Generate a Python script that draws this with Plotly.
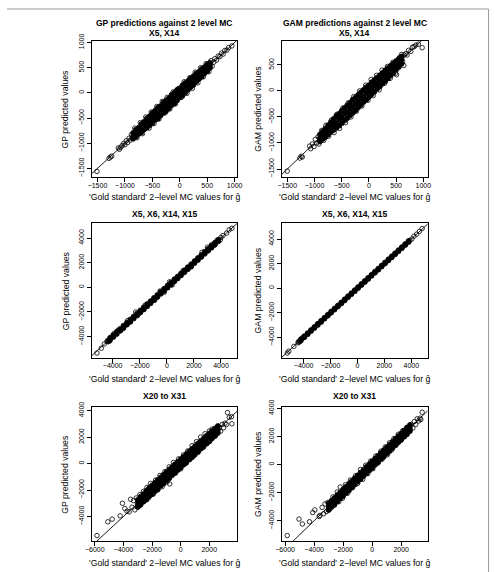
import plotly.graph_objects as go

# ---------------- data ----------------
# Panel 1: GP, X5, X14
p1_core_x = [-850,-800,-750,-700,-650,-600,-550,-500,-450,-400,-350,-300,-250,-200,-150,-100,-50,0,50,100,150,200,250,300,350,400,450,500,550,
             -850,-800,-750,-700,-650,-600,-550,-500,-450,-400,-350,-300,-250,-200,-150,-100,-50,0,50,100,150,200,250,300,350,400,450,500,550,
             -850,-800,-750,-700,-650,-600,-550,-500,-450,-400,-350,-300,-250,-200,-150,-100,-50,0,50,100,150,200,250,300,350,400,450,500,550]
p1_core_y = [-795,-730,-690,-620,-575,-510,-465,-400,-355,-295,-260,-190,-150,-105,-40,0,55,90,150,195,235,290,330,385,420,475,510,565,600,
             -860,-795,-765,-690,-655,-585,-550,-520,-440,-410,-330,-305,-245,-215,-140,-100,-60,15,45,105,130,210,250,290,365,395,455,490,550,
             -910,-870,-815,-785,-725,-690,-645,-600,-540,-510,-450,-395,-360,-305,-245,-210,-150,-90,-55,5,60,115,160,220,275,320,385,430,495]
p1_out_x = [-1509,-1290,-1265,-1240,-1120,-1100,-1075,-1050,-1020,-1000,-975,-950,-925,-905,-880,-870,
            -820,-780,-720,-680,-620,-560,-520,-470,-420,-380,-320,-270,-230,-180,-120,-80,-30,30,80,130,180,230,280,330,380,430,480,530,570,590,620,640,670,700,730,760,790,820,860,890,949]
p1_out_y = [-1560,-1300,-1275,-1255,-1095,-1120,-1080,-1045,-1000,-1030,-950,-985,-900,-940,-830,-900,
            -700,-890,-590,-810,-480,-700,-380,-610,-270,-520,-170,-400,-90,-320,20,-220,80,-90,220,-10,300,90,410,200,500,320,580,420,640,530,610,680,650,730,720,790,770,840,850,900,932]

# Panel 2: GAM, X5, X14
p2_core_x = [-900,-850,-800,-750,-700,-650,-600,-550,-500,-450,-400,-350,-300,-250,-200,-150,-100,-50,0,50,100,150,200,250,300,350,400,450,500,550,600,
             -900,-850,-800,-750,-700,-650,-600,-550,-500,-450,-400,-350,-300,-250,-200,-150,-100,-50,0,50,100,150,200,250,300,350,400,450,500,550,600,
             -900,-850,-800,-750,-700,-650,-600,-550,-500,-450,-400,-350,-300,-250,-200,-150,-100,-50,0,50,100,150,200,250,300,350,400,450,500,550,600]
p2_core_y = [-835,-780,-720,-660,-600,-540,-480,-440,-380,-330,-280,-230,-170,-130,-80,-30,20,70,110,165,210,255,300,345,395,440,485,525,575,615,660,
             -905,-845,-810,-740,-705,-645,-610,-540,-505,-440,-410,-345,-305,-245,-210,-140,-110,-40,5,45,110,140,210,245,310,340,410,445,505,545,605,
             -970,-925,-885,-840,-790,-750,-710,-670,-620,-570,-525,-470,-425,-375,-320,-270,-215,-170,-115,-65,-15,40,85,140,190,240,295,350,410,460,520]
p2_out_x = [-1501,-1270,-1245,-1225,-1090,-1070,-1040,-1010,-985,-960,-935,-920,-870,-830,-790,-740,-690,-640,-590,-540,-480,-430,-380,-330,-280,-230,-170,-130,-60,-20,
            40,80,140,190,240,290,340,390,440,490,507,560,600,620,640,650,680,700,730,770,800,830,860,909,978]
p2_out_y = [-1540,-1290,-1255,-1270,-1060,-1110,-1020,-1070,-930,-1000,-880,-1020,-760,-950,-660,-870,-560,-800,-450,-720,-330,-610,-230,-500,-110,-390,0,-290,110,-180,
            220,-90,300,20,400,150,470,240,550,340,311,640,700,560,488,690,720,690,780,760,840,850,880,898,830]

# Panel 3: GP, X5, X6, X14, X15
p3_core_x = [-4200,-3950,-3700,-3450,-3200,-2950,-2700,-2450,-2200,-1950,-1700,-1450,-1200,-950,-700,-450,-200,50,300,550,800,1050,1300,1550,1800,2050,2300,2550,2800,3050,3300,3550,3800,
             -4200,-3950,-3700,-3450,-3200,-2950,-2700,-2450,-2200,-1950,-1700,-1450,-1200,-950,-700,-450,-200,50,300,550,800,1050,1300,1550,1800,2050,2300,2550,2800,3050,3300,3550,3800]
p3_core_y = [-4120,-3870,-3610,-3380,-3110,-2880,-2610,-2370,-2120,-1870,-1620,-1360,-1120,-860,-620,-370,-120,140,380,630,870,1130,1380,1630,1870,2130,2380,2620,2880,3120,3370,3610,3860,
             -4290,-4030,-3790,-3530,-3290,-3030,-2790,-2530,-2290,-2030,-1790,-1530,-1290,-1030,-790,-530,-290,-30,210,470,720,970,1220,1470,1720,1970,2220,2470,2720,2970,3220,3470,3730]
p3_out_x = [-5160,-4840,-4620,-4420,-4380,-4350,-4300,-4250,-4150,-3900,-3600,-3300,-2900,-2700,-2300,-2100,-1600,-900,-500,-200,200,400,600,1200,1800,2600,3000,3300,3500,3700,3950,4000,4150,4411,4600,4806]
p3_out_y = [-5330,-4940,-4600,-4380,-4330,-4420,-4300,-4380,-4050,-3750,-3480,-3400,-2700,-2800,-2000,-2200,-1450,-1050,-300,-400,450,200,700,1350,1650,2850,3250,3450,3400,3800,3850,4050,4200,4400,4660,4795]

# Panel 4: GAM, X5, X6, X14, X15
p4_core_x = [-4200,-3950,-3700,-3450,-3200,-2950,-2700,-2450,-2200,-1950,-1700,-1450,-1200,-950,-700,-450,-200,50,300,550,800,1050,1300,1550,1800,2050,2300,2550,2800,3050,3300,3550,3800,
             -4200,-3950,-3700,-3450,-3200,-2950,-2700,-2450,-2200,-1950,-1700,-1450,-1200,-950,-700,-450,-200,50,300,550,800,1050,1300,1550,1800,2050,2300,2550,2800,3050,3300,3550,3800]
p4_core_y = [-4160,-3910,-3660,-3410,-3155,-2905,-2660,-2410,-2160,-1905,-1655,-1410,-1160,-905,-660,-410,-160,90,345,590,840,1090,1345,1590,1840,2090,2345,2590,2840,3090,3340,3590,3840,
             -4245,-3990,-3745,-3490,-3240,-2995,-2745,-2490,-2240,-1995,-1745,-1490,-1245,-995,-740,-490,-245,5,255,505,755,1005,1255,1505,1755,2005,2255,2505,2755,3005,3255,3505,3755]
p4_out_x = [-5215,-5100,-4725,-4420,-4380,-4330,-4290,-4250,-4100,-3950,3900,4043,4200,4406,4600,4809]
p4_out_y = [-5281,-5130,-4740,-4450,-4350,-4400,-4290,-4330,-4060,-4000,3890,4010,4230,4400,4620,4850]

# Panel 5: GP, X20 to X31
p5_core_x = [-3000,-2800,-2600,-2400,-2200,-2000,-1800,-1600,-1400,-1200,-1000,-800,-600,-400,-200,0,200,400,600,800,1000,1200,1400,1600,1800,2000,2200,2400,2600,
             -3000,-2800,-2600,-2400,-2200,-2000,-1800,-1600,-1400,-1200,-1000,-800,-600,-400,-200,0,200,400,600,800,1000,1200,1400,1600,1800,2000,2200,2400,2600,
             -3000,-2800,-2600,-2400,-2200,-2000,-1800,-1600,-1400,-1200,-1000,-800,-600,-400,-200,0,200,400,600,800,1000,1200,1400,1600,1800,2000,2200,2400,2600]
p5_core_y = [-2750,-2500,-2300,-2050,-1850,-1650,-1450,-1250,-1050,-850,-660,-450,-270,-60,130,330,520,720,910,1110,1300,1500,1690,1880,2080,2270,2460,2650,2830,
             -3050,-2760,-2650,-2330,-2250,-1950,-1850,-1550,-1450,-1150,-1050,-750,-650,-350,-250,50,150,450,550,850,950,1250,1350,1650,1750,2050,2150,2450,2550,
             -3280,-3120,-2880,-2730,-2480,-2320,-2090,-1930,-1680,-1520,-1290,-1120,-880,-720,-490,-320,-90,80,320,480,710,870,1120,1280,1520,1670,1910,2080,2320]
p5_out_x = [-5848,-5090,-4790,-4230,-4070,-3900,-3750,-3600,-3500,-3400,-3300,-3200,-3100,-2950,-2850,-2700,-2600,-2500,-2350,-2250,-2100,-1900,-1750,-1600,-1450,-1300,-1100,-950,-800,-765,
            -500,-350,-150,0,200,350,500,650,800,950,1100,1250,1400,1550,1700,1850,2000,2100,2200,2300,2450,2550,2700,2800,2900,3000,3100,3200,3276,3400,3556,3582]
p5_out_y = [-5440,-4400,-4200,-3950,-3000,-3400,-3600,-3650,-2700,-3300,-2800,-3500,-2600,-3250,-2350,-2900,-2100,-2750,-1800,-2600,-1500,-2300,-1250,-2000,-900,-1750,-600,-1400,-250,-1540,
            80,-700,350,-400,650,0,950,300,1350,600,1650,900,2000,1200,2250,1500,2450,1800,2600,2050,2500,2250,2700,2450,2950,2700,3050,2950,3854,3500,3533,3000]

# Panel 6: GAM, X20 to X31
p6_core_x = [-3000,-2800,-2600,-2400,-2200,-2000,-1800,-1600,-1400,-1200,-1000,-800,-600,-400,-200,0,200,400,600,800,1000,1200,1400,1600,1800,2000,2200,2400,2600,
             -3000,-2800,-2600,-2400,-2200,-2000,-1800,-1600,-1400,-1200,-1000,-800,-600,-400,-200,0,200,400,600,800,1000,1200,1400,1600,1800,2000,2200,2400,2600,
             -3000,-2800,-2600,-2400,-2200,-2000,-1800,-1600,-1400,-1200,-1000,-800,-600,-400,-200,0,200,400,600,800,1000,1200,1400,1600,1800,2000,2200,2400,2600]
p6_core_y = [-2780,-2570,-2390,-2170,-1980,-1770,-1590,-1370,-1180,-980,-780,-580,-390,-170,20,220,420,620,820,1010,1220,1410,1620,1810,2020,2210,2420,2610,2810,
             -3040,-2760,-2640,-2360,-2240,-1960,-1840,-1560,-1440,-1160,-1040,-760,-640,-360,-240,40,160,440,560,840,960,1240,1360,1640,1760,2040,2160,2440,2560,
             -3240,-3020,-2830,-2630,-2420,-2240,-2020,-1840,-1620,-1430,-1220,-1040,-820,-630,-420,-240,-20,170,380,560,780,960,1180,1370,1580,1760,1980,2160,2380]
p6_out_x = [-5850,-5040,-4810,-4320,-4097,-3950,-3650,-3600,-3450,-3350,-3250,-3150,-3050,-2900,-2700,-2600,-2400,-2300,-2200,-2050,-1850,-1700,-1500,-1350,-1150,-1000,-800,-650,-450,-300,
            -100,50,250,400,600,700,900,1050,1200,1350,1500,1650,1800,1950,2100,2250,2400,2550,2700,2800,2900,3000,3100,3200,3300,3443,3350]
p6_out_y = [-5053,-3880,-4232,-4070,-3420,-3230,-3700,-3620,-3050,-3500,-2800,-3350,-2700,-3150,-2300,-2900,-1950,-2650,-1600,-2400,-1450,-2050,-1100,-1650,-800,-1350,-350,-1050,-50,-650,
            250,-300,600,100,950,400,1250,700,1550,1050,1850,1400,2150,1700,2400,2000,2650,2350,2850,2600,3050,2850,3250,3100,3300,3718,3200]

# identity reference line (y = x)
identity_line = [-7000, 7000]

panel_titles = ["X5, X14", "X5, X14", "X5, X6, X14, X15", "X5, X6, X14, X15", "X20 to X31", "X20 to X31"]
main_titles = ["GP predictions against 2 level MC", "GAM predictions against 2 level MC"]
y_titles = ["GP predicted values", "GAM predicted values"]
x_title = "'Gold standard' 2\u2212level MC values for \u011d"

panels = [
    (p1_core_x, p1_core_y, p1_out_x, p1_out_y),
    (p2_core_x, p2_core_y, p2_out_x, p2_out_y),
    (p3_core_x, p3_core_y, p3_out_x, p3_out_y),
    (p4_core_x, p4_core_y, p4_out_x, p4_out_y),
    (p5_core_x, p5_core_y, p5_out_x, p5_out_y),
    (p6_core_x, p6_core_y, p6_out_x, p6_out_y),
]

# ---------------- layout geometry (pixels) ----------------
W, H = 495, 572
col_x = [(86.7, 236.0), (281.7, 431.0)]
row_y = [(33.3, 171.7), (218.3, 355.0), (405.0, 540.7)]
x_ranges = [[-1607, 1048], [-1600, 1077], [-5557, 5204], [-5616, 5210], [-6225, 3959], [-6222, 3815]]
y_ranges = [[-1676, 1033], [-1659, 962], [-5736, 5200], [-5687, 5285], [-5862, 4246], [-5453, 4070]]
dticks = [500, 500, 2000, 2000, 2000, 2000]

FONT = "Liberation Sans, Arial, Helvetica, sans-serif"

fig = go.Figure()
layout = dict(width=W, height=H, margin=dict(l=0, r=0, t=0, b=0),
              paper_bgcolor="white", plot_bgcolor="white", showlegend=False,
              font=dict(family=FONT, color="black"))
annotations = []

for i, (cx, cy, ox, oy) in enumerate(panels):
    r, c = divmod(i, 2)
    n = i + 1
    xa = "x" if n == 1 else f"x{n}"
    ya = "y" if n == 1 else f"y{n}"
    fig.add_trace(go.Scatter(x=cx, y=cy, mode="markers", xaxis=xa, yaxis=ya,
                             marker=dict(symbol="circle", size=5, color="black",
                                         line=dict(width=0.8, color="black")),
                             hoverinfo="skip"))
    fig.add_trace(go.Scatter(x=ox, y=oy, mode="markers", xaxis=xa, yaxis=ya,
                             marker=dict(symbol="circle-open", size=4.5, color="black",
                                         line=dict(width=0.8, color="black")),
                             hoverinfo="skip"))
    fig.add_trace(go.Scatter(x=identity_line, y=identity_line, mode="lines", xaxis=xa, yaxis=ya,
                             line=dict(color="black", width=0.9), hoverinfo="skip"))
    x0, x1 = col_x[c]
    y0, y1 = row_y[r]
    axis_common = dict(showline=True, linecolor="black", linewidth=1, mirror=True,
                       ticks="outside", ticklen=4, tickwidth=1, tickcolor="black",
                       showgrid=False, zeroline=False, tickmode="linear", tick0=0,
                       dtick=dticks[i], tickfont=dict(family=FONT, size=7, color="black"))
    layout["xaxis" if n == 1 else f"xaxis{n}"] = dict(
        domain=[x0 / W, x1 / W], range=x_ranges[i], anchor=ya,
        ticklabelstandoff=-3, **axis_common)
    layout["yaxis" if n == 1 else f"yaxis{n}"] = dict(
        domain=[1 - y1 / H, 1 - y0 / H], range=y_ranges[i], anchor=xa,
        tickangle=-90, **axis_common)

    xc = (x0 + x1) / 2 / W
    yc = 1 - (y0 + y1) / 2 / H
    # panel title
    title_y = [25.0, 209.0, 393.0][r]
    annotations.append(dict(text=f"<b>{panel_titles[i]}</b>", x=xc, y=1 - title_y / H,
                            xref="paper", yref="paper", showarrow=False,
                            xanchor="center", yanchor="middle",
                            font=dict(family=FONT, size=8.5, color="black")))
    if r == 0:
        annotations.append(dict(text=f"<b>{main_titles[c]}</b>", x=xc, y=1 - 15.0 / H,
                                xref="paper", yref="paper", showarrow=False,
                                xanchor="center", yanchor="middle",
                                font=dict(family=FONT, size=8.5, color="black")))
    # x axis title
    xt_y = [191.5, 376.5, 562.5][r]
    annotations.append(dict(text=x_title, x=xc, y=1 - xt_y / H,
                            xref="paper", yref="paper", showarrow=False,
                            xanchor="center", yanchor="middle",
                            font=dict(family=FONT, size=8.7, color="black")))
    # y axis title
    yt_x = [60.0, 257.0][c]
    annotations.append(dict(text=y_titles[c], x=yt_x / W, y=yc,
                            xref="paper", yref="paper", showarrow=False, textangle=-90,
                            xanchor="center", yanchor="middle",
                            font=dict(family=FONT, size=8.7, color="black")))

layout["annotations"] = annotations
layout["shapes"] = [
    dict(type="line", xref="paper", yref="paper", x0=0, x1=493.5 / W, y0=1 - 1.0 / H, y1=1 - 1.0 / H,
         line=dict(color="#9a9a9a", width=1)),
    dict(type="line", xref="paper", yref="paper", x0=493.5 / W, x1=493.5 / W, y0=0, y1=1 - 1.0 / H,
         line=dict(color="#9a9a9a", width=1)),
]
fig.update_layout(**layout)
fig.write_html("out.html")
